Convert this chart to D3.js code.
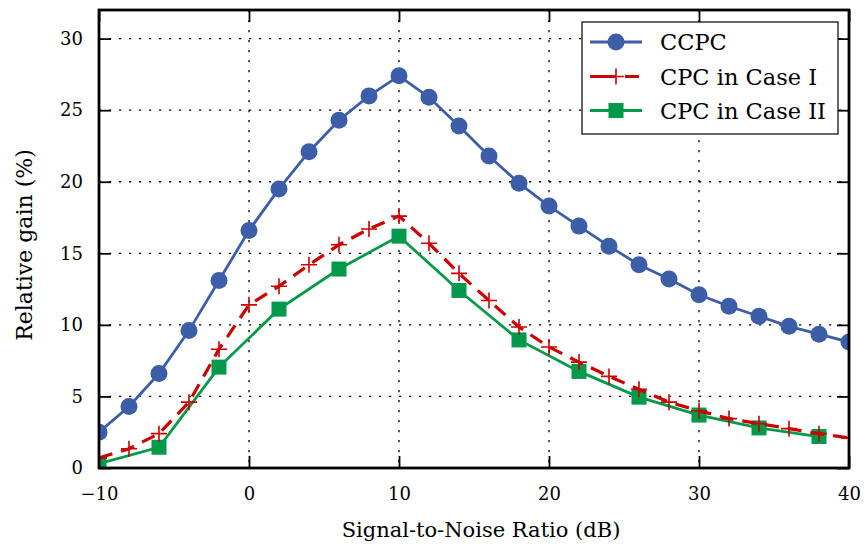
<!DOCTYPE html>
<html>
<head>
<meta charset="utf-8">
<script src="https://cdn.jsdelivr.net/npm/d3@7/dist/d3.min.js"></script>
<style>
  html, body { margin: 0; padding: 0; background: #fff; }
  svg { display: block; }
  text { font-family: "DejaVu Serif", "Liberation Serif", serif; fill: #000; }
</style>
</head>
<body>
<svg id="chart" width="867" height="544"></svg>
<script>
// ---- data ----
const snrCCPC = [-10,-8,-6,-4,-2,0,2,4,6,8,10,12,14,16,18,20,22,24,26,28,30,32,34,36,38,40];
const gainCCPC = [2.5,4.3,6.6,9.6,13.1,16.6,19.5,22.1,24.3,26.0,27.4,25.9,23.9,21.8,19.9,18.3,16.9,15.5,14.2,13.2,12.1,11.3,10.6,9.9,9.35,8.8];

const snrCase1 = [-10,-8,-6,-4,-2,0,2,4,6,8,10,12,14,16,18,20,22,24,26,28,30,32,34,36,38,40];
const gainCase1 = [0.7,1.35,2.4,4.6,8.3,11.4,12.7,14.2,15.6,16.7,17.6,15.7,13.6,11.7,9.85,8.45,7.4,6.4,5.5,4.6,4.0,3.45,3.1,2.75,2.4,2.1];

const snrCase2 = [-10,-6,-2,2,6,10,14,18,22,26,30,34,38];
const gainCase2 = [0.3,1.45,7.05,11.1,13.9,16.2,12.4,8.95,6.75,4.95,3.7,2.8,2.2];

const xTicks = [-10,0,10,20,30,40];
const yTicks = [0,5,10,15,20,25,30];
const seriesNames = ["CCPC", "CPC in Case I", "CPC in Case II"];
const colors = ["#3c5ea8", "#cc0000", "#009a4a"];

// ---- layout ----
const svg = d3.select("#chart");
const L = 99, R = 849, T = 10, B = 468;
const x = d3.scaleLinear().domain([-10, 40]).range([L, R]);
const y = d3.scaleLinear().domain([0, 32]).range([B, T]);

svg.append("defs").append("clipPath").attr("id", "clip")
  .append("rect").attr("x", L).attr("y", T).attr("width", R - L).attr("height", B - T);

// grid
const grid = svg.append("g");
grid.selectAll("line.gx").data(xTicks.filter(d => d > -10 && d < 40)).join("line")
  .attr("x1", d => x(d)).attr("x2", d => x(d)).attr("y1", T).attr("y2", B)
  .attr("stroke", "#000").attr("stroke-width", 1.3).attr("stroke-dasharray", "2.2,7.8");
grid.selectAll("line.gy").data(yTicks.filter(d => d > 0)).join("line")
  .attr("y1", d => y(d)).attr("y2", d => y(d)).attr("x1", L).attr("x2", R)
  .attr("stroke", "#000").attr("stroke-width", 1.3).attr("stroke-dasharray", "2.2,7.8");

// axes with inward ticks on all sides
const tl = 12;
const fmt = d => d < 0 ? "\u2212" + Math.abs(d) : String(d);
const axB = svg.append("g").attr("transform", `translate(0,${B})`)
  .call(d3.axisBottom(x).tickValues(xTicks).tickSizeInner(-tl).tickSizeOuter(0).tickPadding(19).tickFormat(fmt));
const axT = svg.append("g").attr("transform", `translate(0,${T})`)
  .call(d3.axisTop(x).tickValues(xTicks).tickSizeInner(-tl).tickSizeOuter(0).tickFormat(""));
const axL = svg.append("g").attr("transform", `translate(${L},0)`)
  .call(d3.axisLeft(y).tickValues(yTicks).tickSizeInner(-tl).tickSizeOuter(0).tickPadding(16).tickFormat(fmt));
const axR = svg.append("g").attr("transform", `translate(${R},0)`)
  .call(d3.axisRight(y).tickValues(yTicks).tickSizeInner(-tl).tickSizeOuter(0).tickFormat(""));
[axB, axT, axL, axR].forEach(a => {
  a.select(".domain").remove();
  a.selectAll(".tick line").attr("stroke", "#000").attr("stroke-width", 1.8);
  a.selectAll(".tick text").style("font-family", "DejaVu Serif").style("font-size", "18px").attr("fill", "#000");
});

// plot data
const plot = svg.append("g").attr("clip-path", "url(#clip)");
const line = d3.line().x(d => x(d[0])).y(d => y(d[1]));
const d1 = snrCCPC.map((s, i) => [s, gainCCPC[i]]);
const d2 = snrCase1.map((s, i) => [s, gainCase1[i]]);
const d3d = snrCase2.map((s, i) => [s, gainCase2[i]]);

plot.append("path").datum(d1).attr("d", line).attr("fill", "none")
  .attr("stroke", colors[0]).attr("stroke-width", 2.8);
plot.selectAll("circle.c").data(d1).join("circle")
  .attr("cx", d => x(d[0])).attr("cy", d => y(d[1])).attr("r", 8.5).attr("fill", colors[0]);

plot.append("path").datum(d3d).attr("d", line).attr("fill", "none")
  .attr("stroke", colors[2]).attr("stroke-width", 2.8);
plot.selectAll("rect.s").data(d3d).join("rect")
  .attr("x", d => x(d[0]) - 7.5).attr("y", d => y(d[1]) - 7.5).attr("width", 15).attr("height", 15)
  .attr("fill", colors[2]);

plot.append("path").datum(d2).attr("d", line).attr("fill", "none")
  .attr("stroke", colors[1]).attr("stroke-width", 3.2).attr("stroke-dasharray", "14,9");
plot.selectAll("path.p").data(d2).join("path")
  .attr("d", d => `M${x(d[0]) - 8},${y(d[1])}H${x(d[0]) + 8}M${x(d[0])},${y(d[1]) - 8}V${y(d[1]) + 8}`)
  .attr("stroke", colors[1]).attr("stroke-width", 1.6).attr("fill", "none");

// frame
svg.append("rect").attr("x", L).attr("y", T).attr("width", R - L).attr("height", B - T)
  .attr("fill", "none").attr("stroke", "#000").attr("stroke-width", 2.8);

// axis labels
svg.append("text").attr("x", (L + R) / 2 + 7).attr("y", 537).attr("text-anchor", "middle")
  .style("font-size", "21px").text("Signal-to-Noise Ratio (dB)");
svg.append("text").attr("transform", `translate(32,245) rotate(-90)`).attr("text-anchor", "middle")
  .style("font-size", "22px").text("Relative gain (%)");

// legend
const lg = svg.append("g");
lg.append("rect").attr("x", 582).attr("y", 22).attr("width", 256).attr("height", 112)
  .attr("fill", "#fff").attr("stroke", "#000").attr("stroke-width", 1.2);
const ly = [42, 76.5, 110.5];
seriesNames.forEach((name, i) => {
  const g = lg.append("g");
  const ln = g.append("line").attr("x1", 590).attr("x2", 642).attr("y1", ly[i]).attr("y2", ly[i])
    .attr("stroke", colors[i]).attr("stroke-width", i === 1 ? 3.2 : 2.8);
  if (i === 1) ln.attr("stroke-dasharray", "26,9,14,9");
  if (i === 0) g.append("circle").attr("cx", 616).attr("cy", ly[i]).attr("r", 8.5).attr("fill", colors[0]);
  if (i === 1) g.append("path").attr("d", `M608,${ly[i]}H624M616,${ly[i] - 8}V${ly[i] + 8}`)
    .attr("stroke", colors[1]).attr("stroke-width", 1.6);
  if (i === 2) g.append("rect").attr("x", 608.5).attr("y", ly[i] - 7.5).attr("width", 15).attr("height", 15).attr("fill", colors[2]);
  g.append("text").attr("x", 660).attr("y", ly[i] + 8).style("font-size", "22.5px").text(name);
});
</script>
</body>
</html>
